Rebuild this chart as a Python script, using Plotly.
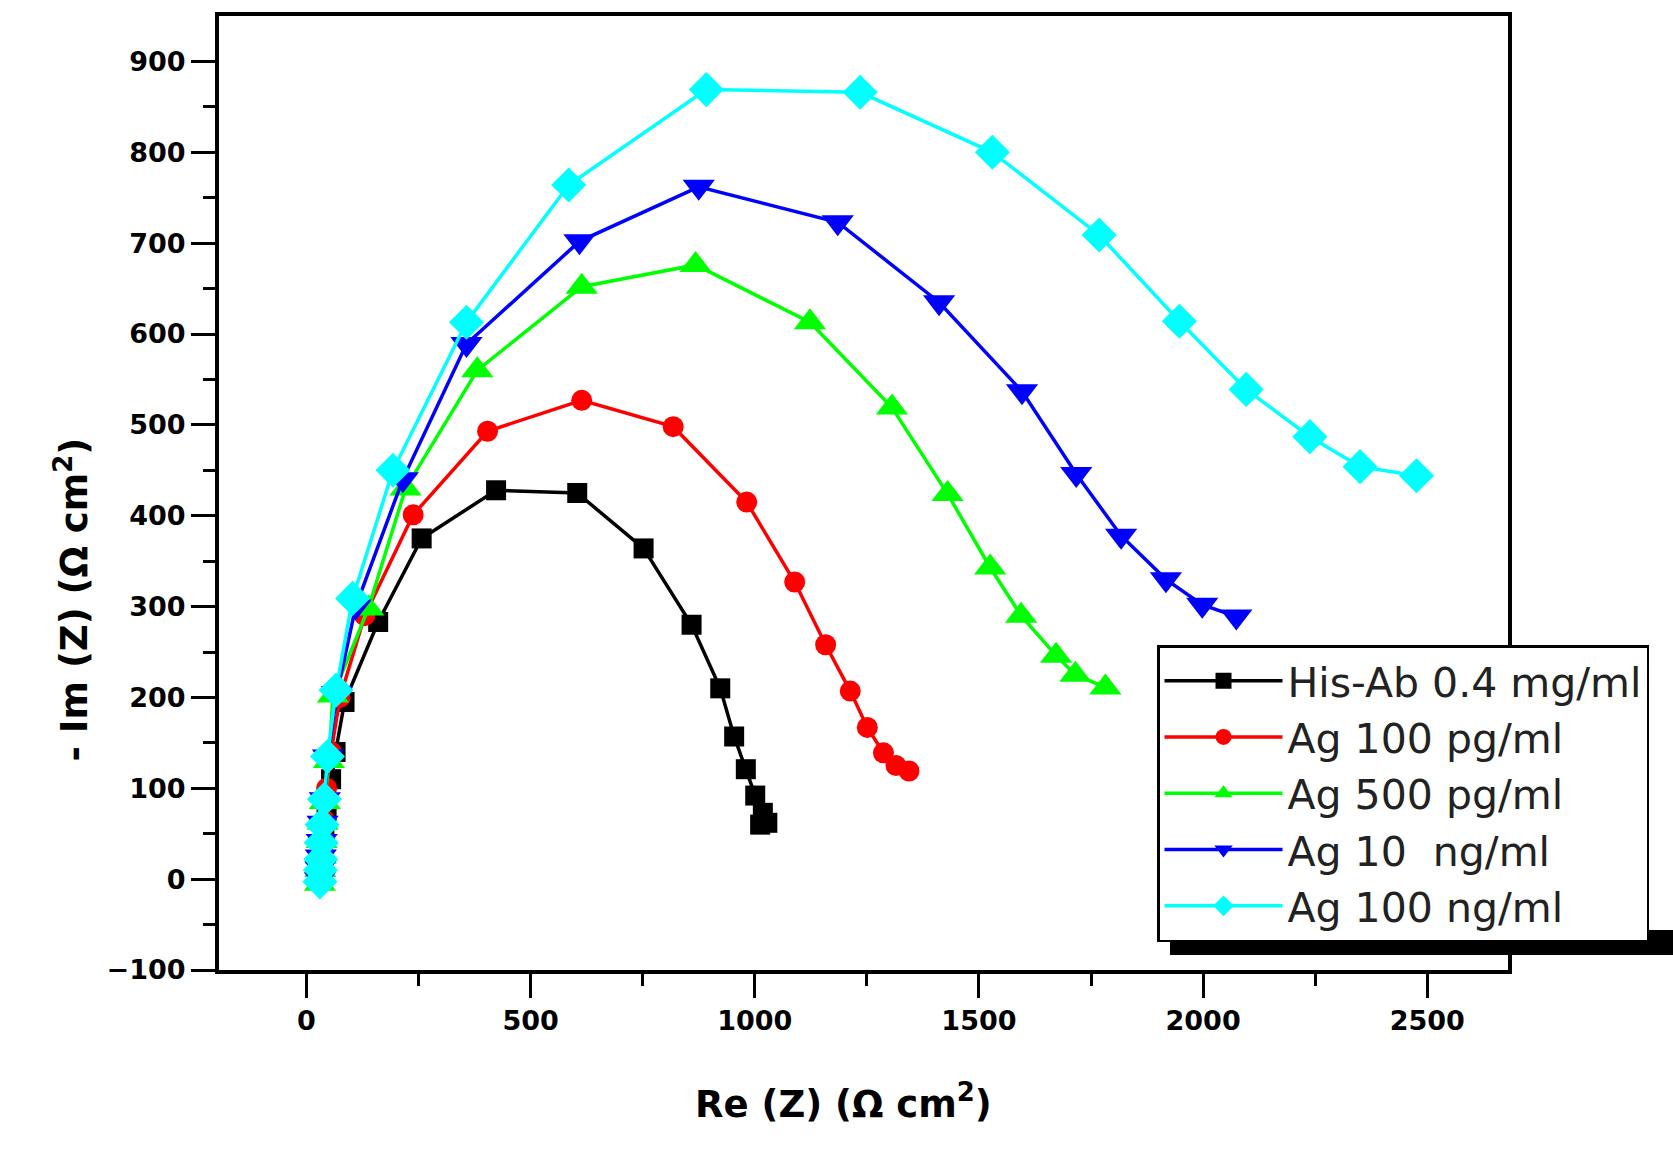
import plotly.graph_objects as go

# ---- data ----
names = ["His-Ab 0.4 mg/ml", "Ag 100 pg/ml", "Ag 500 pg/ml", "Ag 10  ng/ml", "Ag 100 ng/ml"]

black_x = [34, 36, 40, 45, 55, 65, 85, 160, 257, 423, 604, 752, 859, 923, 954, 980, 1001, 1018, 1012, 1028]
black_y = [5, 25, 50, 75, 110, 140, 195, 283, 375, 428, 425, 364, 280, 210, 157, 121, 92, 73, 60, 62]

red_x = [32, 34, 36, 40, 45, 55, 75, 130, 238, 404, 614, 818, 982, 1089, 1158, 1213, 1251, 1287, 1315, 1344]
red_y = [5, 20, 40, 65, 100, 140, 200, 290, 401, 493, 527, 498, 415, 327, 258, 207, 167, 139, 125, 119]

green_x = [30, 31, 32, 34, 36, 41, 50, 59, 138, 221, 381, 614, 868, 1123, 1306, 1430, 1525, 1594, 1672, 1715, 1782]
green_y = [-5, 10, 25, 42, 62, 85, 130, 202, 298, 430, 560, 652, 676, 613, 519, 424, 343, 290, 246, 225, 211]

blue_x = [30, 31, 32, 34, 36, 41, 48, 68, 110, 215, 357, 609, 875, 1185, 1411, 1596, 1717, 1817, 1917, 1998, 2074]
blue_y = [0, 12, 25, 42, 62, 88, 135, 205, 300, 440, 589, 702, 762, 723, 635, 537, 446, 378, 330, 302, 289]

cyan_x = [30, 31, 32, 33, 35, 40, 47, 66, 103, 193, 357, 585, 892, 1235, 1530, 1768, 1947, 2096, 2238, 2350, 2476]
cyan_y = [-3, 10, 22, 40, 60, 88, 135, 208, 309, 450, 613, 764, 869, 866, 800, 709, 614, 539, 487, 454, 444]

series = [
    (names[0], black_x, black_y, "#000000", "square", 20),
    (names[1], red_x, red_y, "#FF0000", "circle", 21),
    (names[2], green_x, green_y, "#00FF00", "triangle-up", 28),
    (names[3], blue_x, blue_y, "#0000FF", "triangle-down", 28),
    (names[4], cyan_x, cyan_y, "#00FFFF", "diamond", 27),
]

fig = go.Figure()
for name, xs, ys, col, sym, sz in series:
    fig.add_trace(go.Scatter(
        x=xs, y=ys, name=name, mode="lines+markers",
        line=dict(color=col, width=3.5),
        marker=dict(color=col, symbol=sym, size=sz, line=dict(width=0)),
    ))

W, H = 1673, 1156
L, R, T, B = 219, 165, 16, 186
pw, ph = W - L - R, H - T - B

def px(X):
    return (X - L) / pw

def py(Y):
    return (H - B - Y) / ph

tickfont = dict(family="DejaVu Sans", size=27, color="black", weight="bold")
titlefont = dict(family="DejaVu Sans", size=37, color="black", weight="bold")

fig.update_layout(
    width=W, height=H,
    margin=dict(l=L, r=R, t=T, b=B),
    paper_bgcolor="white", plot_bgcolor="white",
    showlegend=True,
    legend=dict(
        x=px(1157), y=py(645), xanchor="left", yanchor="top",
        bgcolor="white", bordercolor="black", borderwidth=2.5,
        font=dict(family="DejaVu Sans", size=41, color="#222222"),
        itemwidth=118, tracegroupgap=0,
    ),
    xaxis=dict(
        range=[-195, 2680], showgrid=False, zeroline=False,
        tickmode="array", tickvals=[0, 500, 1000, 1500, 2000, 2500],
        ticks="outside", ticklen=24, tickwidth=3, tickcolor="black",
        minor=dict(tickvals=[250, 750, 1250, 1750, 2250], ticks="outside", ticklen=12, tickwidth=3, tickcolor="black"),
        showline=True, linewidth=4, linecolor="black", mirror=True,
        tickfont=tickfont,
    ),
    yaxis=dict(
        range=[-100, 950], showgrid=False, zeroline=False,
        tickmode="array", tickvals=[-100, 0, 100, 200, 300, 400, 500, 600, 700, 800, 900],
        ticks="outside", ticklen=24, tickwidth=3, tickcolor="black",
        minor=dict(tickvals=[-50, 50, 150, 250, 350, 450, 550, 650, 750, 850], ticks="outside", ticklen=12, tickwidth=3, tickcolor="black"),
        showline=True, linewidth=4, linecolor="black", mirror=True,
        tickfont=tickfont,
    ),
    shapes=[
        dict(type="rect", xref="paper", yref="paper",
             x0=px(1170), x1=px(1673), y0=py(955), y1=py(930),
             fillcolor="black", line=dict(width=0), layer="above"),
    ],
    annotations=[
        dict(text="- Im (Z) (\u03a9 cm<sup>2</sup>)", xref="paper", yref="paper",
             x=px(45), y=py(600), textangle=-90, showarrow=False,
             font=titlefont),
        dict(text="Re (Z) (\u03a9 cm<sup>2</sup>)", xref="paper", yref="paper",
             x=px(843), y=py(1128), showarrow=False,
             font=titlefont),
    ],
)

fig.write_html("out.html")
